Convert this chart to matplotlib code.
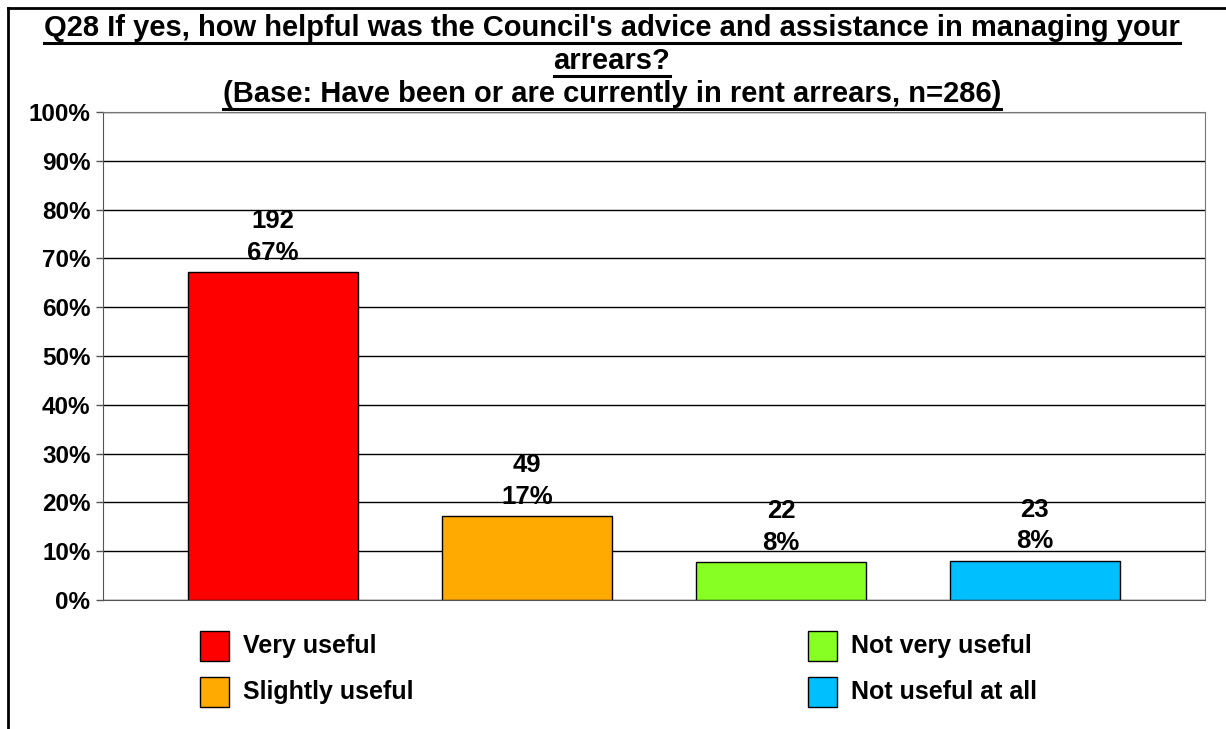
import matplotlib.pyplot as plt
from matplotlib.lines import Line2D

plt.rcParams['font.family'] = ['Liberation Sans', 'DejaVu Sans']
plt.rcParams['font.weight'] = 'bold'

categories = ['Very useful', 'Slightly useful', 'Not very useful', 'Not useful at all']
counts = [192, 49, 22, 23]
base_n = 286
colors = ['#FF0000', '#FFAA00', '#88FF22', '#00BFFF']
title_lines = [
    "Q28 If yes, how helpful was the Council's advice and assistance in managing your",
    "arrears?",
    "(Base: Have been or are currently in rent arrears, n=286)",
]

percents = [c / base_n * 100 for c in counts]

W, H = 1226, 729
fig = plt.figure(figsize=(W / 100, H / 100), dpi=100)
ax = fig.add_axes([103 / W, 1 - 600 / H, 1102 / W, 488 / H])

x = range(len(categories))
ax.bar(x, percents, width=0.67, color=colors, edgecolor='black', linewidth=1, zorder=3)

for i, (c, p) in enumerate(zip(counts, percents)):
    ax.text(i, p + 1.6, f'{c}\n{p:.0f}%', ha='center', va='bottom',
            fontsize=18.5, fontweight='bold', linespacing=1.38)

ax.set_xlim(-0.67, 3.67)
ax.set_ylim(0, 100)
ax.set_yticks(range(0, 101, 10))
ax.set_yticklabels([f'{v}%' for v in range(0, 101, 10)], fontsize=17.5, fontweight='bold')
ax.set_xticks([])
ax.yaxis.grid(True, color='black', linewidth=1, zorder=0)
ax.tick_params(axis='y', length=5, width=1, color='#555555', pad=4)
for side in ['left', 'bottom']:
    ax.spines[side].set_color('#555555')
for side in ['top', 'right']:
    ax.spines[side].set_color('#777777')

# legend in two columns under the plot
leg_pos = [(200, 646), (200, 692), (808, 646), (808, 692)]
for col, lab, (px, py) in zip(colors, categories, leg_pos):
    fig.patches.append(plt.Rectangle((px / W, 1 - (py + 15) / H), 29 / W, 30 / H,
                                     facecolor=col, edgecolor='black',
                                     linewidth=1, transform=fig.transFigure))
    fig.text((px + 43) / W, 1 - py / H, lab, fontsize=18, fontweight='bold',
             va='center', ha='left')

# title, each line underlined
title_y = [28, 61, 94]
title_texts = []
for line, ty in zip(title_lines, title_y):
    title_texts.append(fig.text(612 / W, 1 - ty / H, line, fontsize=21,
                                fontweight='bold', ha='center', va='center'))

fig.canvas.draw()
renderer = fig.canvas.get_renderer()
for t in title_texts:
    bb = t.get_window_extent(renderer).transformed(fig.transFigure.inverted())
    fig.add_artist(Line2D([bb.x0, bb.x1], [bb.y0 - 0.001, bb.y0 - 0.001],
                          color='black', linewidth=2.2, transform=fig.transFigure))

# outer chart frame (left and top edges)
fig.add_artist(Line2D([8 / W, 8 / W], [0, 1 - 8 / H], color='black', linewidth=2,
                      transform=fig.transFigure))
fig.add_artist(Line2D([8 / W, 1], [1 - 8 / H, 1 - 8 / H], color='black', linewidth=2,
                      transform=fig.transFigure))

fig.savefig('out.png', dpi=100)
